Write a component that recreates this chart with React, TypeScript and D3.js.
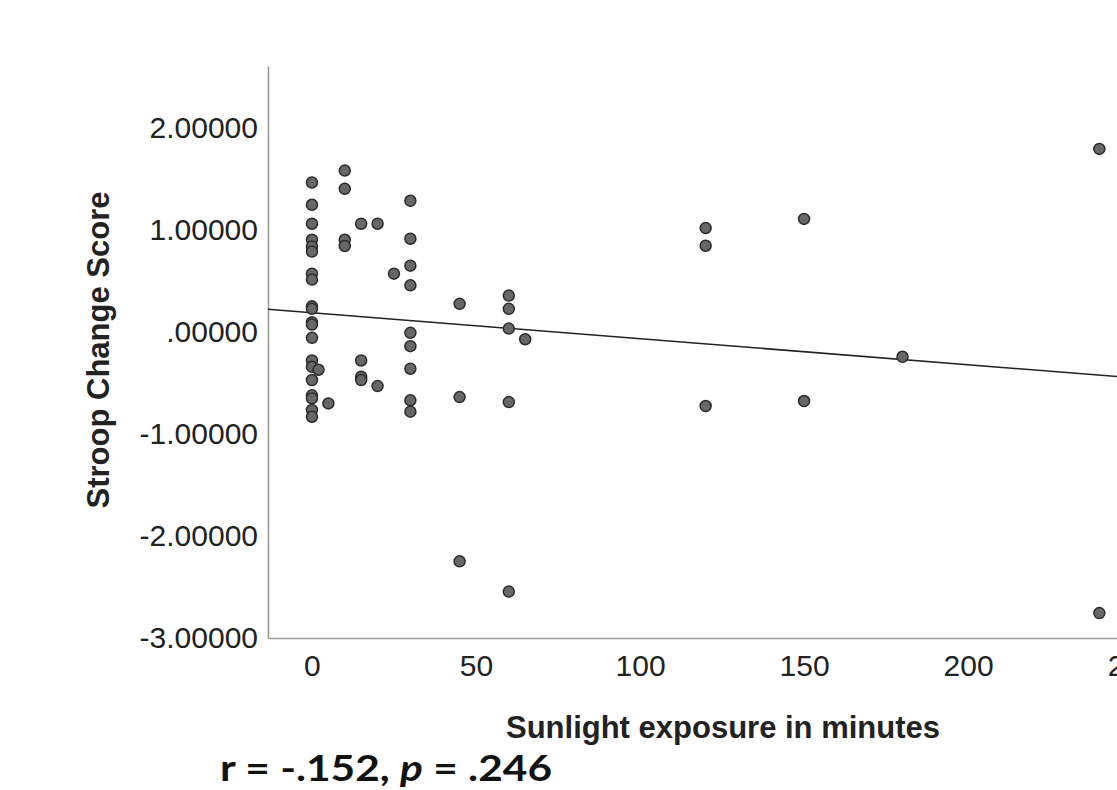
import React, { useEffect, useRef } from 'react'
import * as d3 from 'd3'

// sunlight minutes per participant group and the Stroop change scores
const xZero = [0, 0, 0, 0, 0, 0, 0, 0, 0, 0, 0, 0, 0, 0, 0, 0, 0, 0, 0, 0]
const yZero = [1.467, 1.249, 1.063, 0.906, 0.84, 0.79, 0.573, 0.515, 0.253, 0.228,
  0.097, 0.074, -0.056, -0.278, -0.34, -0.47, -0.62, -0.65, -0.764, -0.83]
const xRest = [2, 5, 10, 10, 10, 10, 15, 15, 15, 15, 20, 20, 25,
  30, 30, 30, 30, 30, 30, 30, 30, 30,
  45, 45, 45, 60, 60, 60, 60, 60, 65,
  120, 120, 120, 150, 150, 180, 240, 240]
const yRest = [-0.369, -0.699, 1.584, 1.405, 0.906, 0.845, 1.063, -0.278, -0.437, -0.47, 1.063, -0.529, 0.573,
  1.288, 0.916, 0.652, 0.459, -0.007, -0.138, -0.359, -0.669, -0.78,
  0.277, -0.637, -2.248, 0.358, 0.228, 0.035, -0.686, -2.545, -0.07,
  1.02, 0.847, -0.725, 1.11, -0.676, -0.242, 1.797, -2.756]

const xTicks = [0, 50, 100, 150, 200, 250]
const yTicks = [2, 1, 0, -1, -2, -3]

// fitted line as drawn in the figure
const fitIntercept = 0.19
const fitSlope = -0.00255

const statText = { r: '-.152', p: '.246' }

export default function App(){
  const svgRef = useRef<SVGSVGElement>(null)

  useEffect(()=>{
    const W = 1117, H = 790
    const svg = d3.select(svgRef.current).attr('width', W).attr('height', H)
    svg.selectAll('*').remove()

    const x = d3.scaleLinear().domain([-13.4, 253]).range([268, 1142])
    const y = d3.scaleLinear().domain([-3, 2.61]).range([638, 66])

    const pts = [
      ...xZero.map((v,i)=>({x:v, y:yZero[i]})),
      ...xRest.map((v,i)=>({x:v, y:yRest[i]}))
    ]

    const font = '"Liberation Sans", Arial, sans-serif'
    const axisCol = '#9a9a9a'

    // axes
    const yAxis = svg.append('g').attr('transform','translate(268,0)')
      .call(d3.axisLeft(y).tickValues(yTicks).tickSize(0).tickPadding(10)
        .tickFormat(d=>(+d).toFixed(5).replace(/^0/, '')))
    yAxis.select('.domain').attr('stroke', axisCol).attr('stroke-width', 1.6)
    yAxis.selectAll('text').attr('font-family', font).attr('font-size', 30).attr('fill','#222')

    const xAxis = svg.append('g').attr('transform','translate(0,638)')
      .call(d3.axisBottom(x).tickValues(xTicks).tickSize(0).tickPadding(17).tickFormat(d3.format('d')))
    xAxis.select('.domain').attr('stroke', axisCol).attr('stroke-width', 1.6)
    xAxis.selectAll('text').attr('font-family', font).attr('font-size', 30).attr('fill','#222')

    // axis titles
    svg.append('text').attr('transform','translate(109,350) rotate(-90)')
      .attr('text-anchor','middle').attr('font-family', font).attr('font-weight','bold')
      .attr('font-size', 31).attr('fill','#222').text('Stroop Change Score')
    svg.append('text').attr('x', 723).attr('y', 738)
      .attr('text-anchor','middle').attr('font-family', font).attr('font-weight','bold')
      .attr('font-size', 31).attr('fill','#222').text('Sunlight exposure in minutes')

    // fit line
    const [x0, x1] = x.domain()
    svg.append('line')
      .attr('x1', x(x0)).attr('y1', y(fitIntercept + fitSlope*x0))
      .attr('x2', x(x1)).attr('y2', y(fitIntercept + fitSlope*x1))
      .attr('stroke','#222').attr('stroke-width', 1.6)

    // points
    svg.append('g').selectAll('circle').data(pts).join('circle')
      .attr('cx', d=>x(d.x)).attr('cy', d=>y(d.y)).attr('r', 5.5)
      .attr('fill','#676767').attr('stroke','#2b2b2b').attr('stroke-width', 1.5)

    // stats line
    const st = svg.append('text').attr('x', 220).attr('y', 781)
      .attr('font-family','Lato, "Open Sans", sans-serif').attr('font-weight','bold')
      .attr('font-size', 36).attr('fill','#111')
      .attr('textLength', 332).attr('lengthAdjust','spacingAndGlyphs')
    st.append('tspan').text(`r = ${statText.r}, `)
    st.append('tspan').attr('font-style','italic').text('p')
    st.append('tspan').text(` = ${statText.p}`)
  },[])

  return (
    <div style={{position:'fixed', left:0, top:0, width:1117, height:790, overflow:'hidden', background:'#fff'}}>
      <svg ref={svgRef} style={{display:'block'}}></svg>
    </div>
  )
}
